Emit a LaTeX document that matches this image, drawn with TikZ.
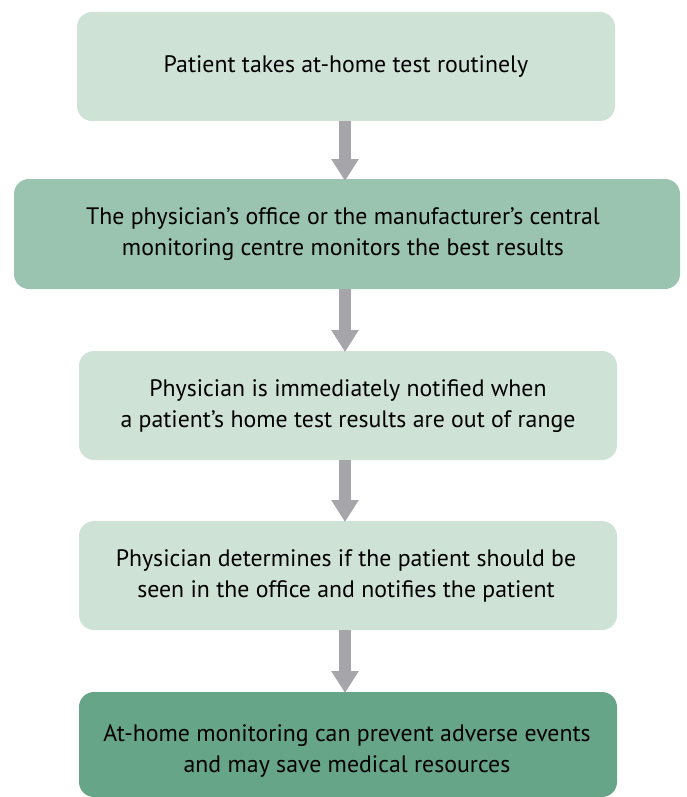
\documentclass[tikz,border=0pt]{standalone}
\usepackage{fontspec}
\setmainfont{PT Sans}
\usetikzlibrary{arrows.meta}
\definecolor{paleGreen}{HTML}{CFE2D6}
\definecolor{midGreen}{HTML}{9AC4AF}
\definecolor{deepGreen}{HTML}{66A588}
\definecolor{arrowGray}{HTML}{A6A6AA}
\begin{document}
\begin{tikzpicture}[x=1pt,y=-1pt,
  stepbox/.style={rounded corners=15pt, draw=none},
  steptext/.style={align=center, font=\fontsize{23.8}{31}\selectfont, text=black},
  flow/.style={draw=arrowGray, line width=12pt,
    -{Triangle[length=22pt,width=26pt]}, shorten >=-1pt}]
\useasboundingbox (0,0) rectangle (686,797);
% boxes
\fill[paleGreen, stepbox] (77,12) rectangle (615,121);
\fill[midGreen, stepbox] (14,179) rectangle (680,289);
\fill[paleGreen, stepbox] (79,351) rectangle (617,460);
\fill[paleGreen, stepbox] (79,521) rectangle (617,630);
\fill[deepGreen, stepbox] (79,692) rectangle (617,797);
% labels
\node[steptext] (s1) at (346,67) {Patient takes at-home test routinely};
\node[steptext] (s2) at (343,234) {The physician’s office or the manufacturer’s central\\monitoring centre monitors the best results};
\node[steptext] (s3) at (348,406) {Physician is immediately notified when\\a patient’s home test results are out of range};
\node[steptext] (s4) at (346,576) {Physician determines if the patient should be\\seen in the office and notifies the patient};
\node[steptext] (s5) at (347,751) {At-home monitoring can prevent adverse events\\and may save medical resources};
% connectors
\coordinate (a1) at (345,121); \coordinate (b1) at (345,180);
\coordinate (a2) at (345,289); \coordinate (b2) at (345,351);
\coordinate (a3) at (345,460); \coordinate (b3) at (345,521);
\coordinate (a4) at (345,630); \coordinate (b4) at (345,692);
\draw[flow] (a1) -- (b1);
\draw[flow] (a2) -- (b2);
\draw[flow] (a3) -- (b3);
\draw[flow] (a4) -- (b4);
\end{tikzpicture}
\end{document}
